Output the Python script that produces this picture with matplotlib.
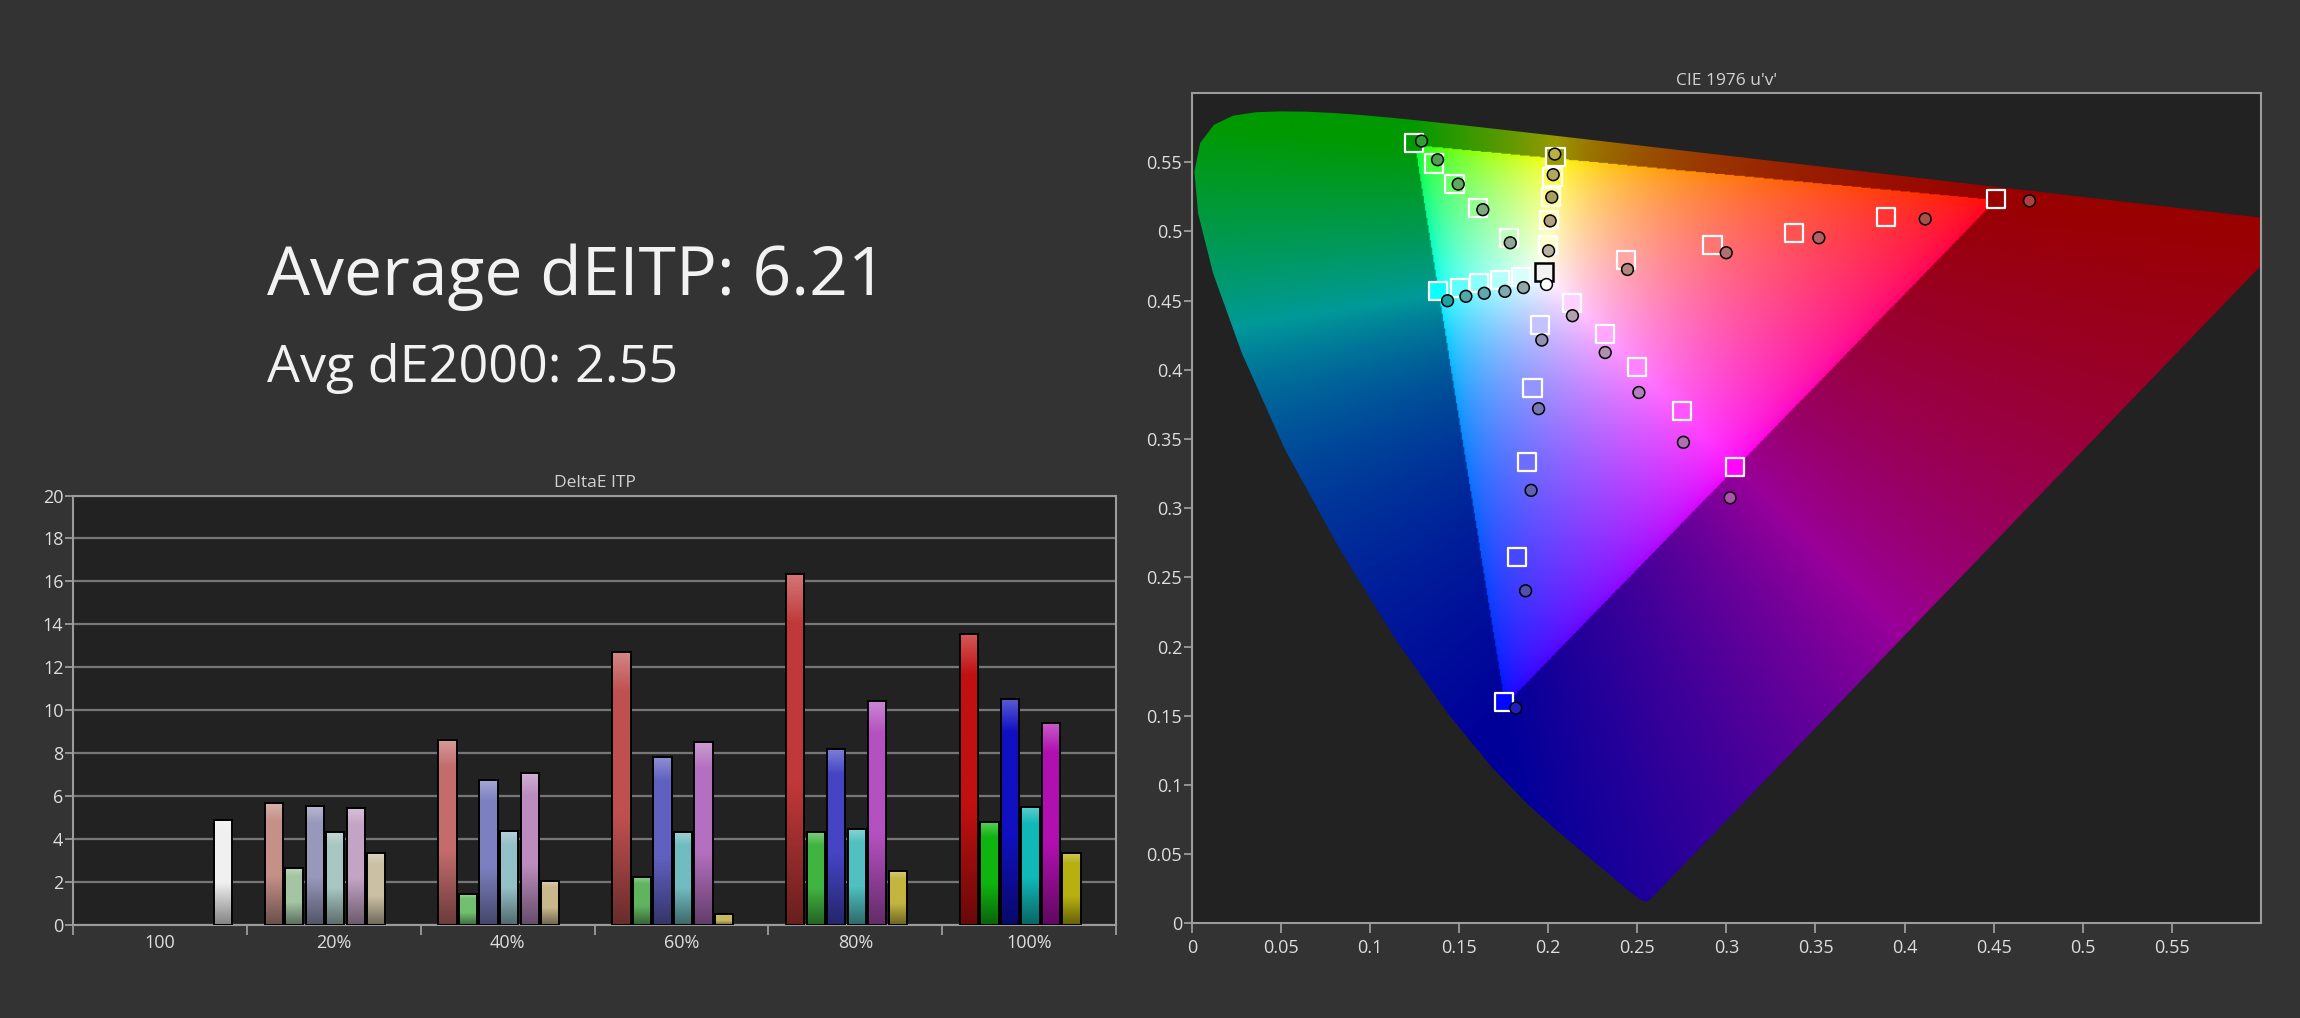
import numpy as np
import matplotlib
matplotlib.use("Agg")
from matplotlib import pyplot as plt
from matplotlib.colors import to_rgb
from matplotlib.path import Path
from matplotlib.patches import PathPatch
from matplotlib.ticker import FuncFormatter

plt.rcParams['font.family'] = ['Open Sans', 'DejaVu Sans']

FIG_BG = '#333333'
AX_BG = '#222222'
FRAME = '#9c9c9c'
GRID = '#777777'
TEXT = '#dedede'

# ---- DeltaE ITP bars ----
group_labels = ["100", "20%", "40%", "60%", "80%", "100%"]
white_de = 4.9
de_red = [5.67, 8.62, 12.70, 16.33, 13.57]
de_green = [2.65, 1.44, 2.22, 4.31, 4.79]
de_blue = [5.52, 6.73, 7.83, 8.18, 10.50]
de_cyan = [4.30, 4.36, 4.30, 4.44, 5.47]
de_magenta = [5.42, 7.06, 8.52, 10.43, 9.40]
de_yellow = [3.35, 2.04, 0.48, 2.49, 3.35]

bar_white = '#f0f0f0'
bar_red = ['#c49088', '#c46c6c', '#c05050', '#c03838', '#c01010']
bar_green = ['#a4c4a4', '#70c070', '#60b460', '#40b440', '#10b410']
bar_blue = ['#9898bc', '#7c80c0', '#6060c0', '#4444c4', '#1010c0']
bar_cyan = ['#a8c6c2', '#94c0c8', '#70bcc0', '#50c0c0', '#10b8b8']
bar_magenta = ['#c4a4c4', '#bc8cc0', '#b470c0', '#b450c0', '#b010b0']
bar_yellow = ['#ccc0a4', '#c8b88c', '#c8b860', '#c4b440', '#b8b010']

# ---- CIE 1976 u'v' points (target squares / measured circles), 20% -> 100% ----
white_target = (0.1977, 0.4707)
white_meas = (0.1985, 0.4621)
target_red = [(0.2436, 0.4792), (0.2922, 0.4905), (0.3382, 0.4991), (0.3897, 0.5103), (0.4512, 0.5234)]
meas_red = [(0.2445, 0.4725), (0.2999, 0.4846), (0.3519, 0.4954), (0.4116, 0.5090), (0.4701, 0.5221)]
target_green = [(0.1779, 0.4955), (0.1607, 0.5171), (0.1474, 0.5342), (0.1358, 0.5491), (0.1246, 0.5640)]
meas_green = [(0.1787, 0.4918), (0.1633, 0.5157), (0.1495, 0.5342), (0.1379, 0.5518), (0.1289, 0.5653)]
target_blue = [(0.1955, 0.4323), (0.1912, 0.3868), (0.1882, 0.3332), (0.1826, 0.2646), (0.1753, 0.1596)]
meas_blue = [(0.1964, 0.4215), (0.1946, 0.3719), (0.1904, 0.3129), (0.1873, 0.2403), (0.1818, 0.1555)]
target_cyan = [(0.1848, 0.4670), (0.1732, 0.4652), (0.1611, 0.4625), (0.1504, 0.4594), (0.1384, 0.4567)]
meas_cyan = [(0.1861, 0.4594), (0.1757, 0.4567), (0.1641, 0.4553), (0.1538, 0.4531), (0.1435, 0.4499)]
target_magenta = [(0.2136, 0.4481), (0.2320, 0.4260), (0.2501, 0.4017), (0.2750, 0.3701), (0.3046, 0.3300)]
meas_magenta = [(0.2136, 0.4391), (0.2320, 0.4125), (0.2509, 0.3836), (0.2759, 0.3476), (0.3021, 0.3075)]
target_yellow = [(0.1998, 0.4905), (0.2007, 0.5085), (0.2015, 0.5248), (0.2024, 0.5392), (0.2041, 0.5536)]
meas_yellow = [(0.2002, 0.4860), (0.2011, 0.5076), (0.2020, 0.5248), (0.2028, 0.5410), (0.2037, 0.5559)]

dot_red = ['#b08880', '#b07070', '#b06060', '#a85050', '#b04040']
dot_green = ['#90a898', '#80a880', '#60a860', '#50a050', '#30a030']
dot_blue = ['#9090b0', '#7878b0', '#6060b0', '#5050a8', '#2020c0']
dot_cyan = ['#90a8a8', '#80a8b0', '#60a8b0', '#50a8a8', '#20a0a0']
dot_magenta = ['#b0a0b0', '#b090b0', '#b080b8', '#b070b0', '#b050b0']
dot_yellow = ['#b8b0a0', '#b0a080', '#a8a060', '#b0a860', '#b8b040']

# CIE 1931 2 deg spectral locus, 380-700 nm (x, y)
locus_x = [0.1741, 0.1740, 0.1738, 0.1736, 0.1733, 0.1730, 0.1726, 0.1721, 0.1714, 0.1703,
           0.1689, 0.1669, 0.1644, 0.1611, 0.1566, 0.1510, 0.1440, 0.1355, 0.1241, 0.1096,
           0.0913, 0.0687, 0.0454, 0.0235, 0.0082, 0.0039, 0.0139, 0.0389, 0.0743, 0.1142,
           0.1547, 0.1929, 0.2296, 0.2658, 0.3016, 0.3373, 0.3731, 0.4087, 0.4441, 0.4788,
           0.5125, 0.5448, 0.5752, 0.6029, 0.6270, 0.6482, 0.6658, 0.6801, 0.6915, 0.7006,
           0.7079, 0.7140, 0.7190, 0.7230, 0.7260, 0.7283, 0.7300, 0.7311, 0.7320, 0.7334,
           0.7344, 0.7347]
locus_y = [0.0050, 0.0050, 0.0049, 0.0049, 0.0048, 0.0048, 0.0048, 0.0048, 0.0051, 0.0058,
           0.0069, 0.0086, 0.0109, 0.0138, 0.0177, 0.0227, 0.0297, 0.0399, 0.0578, 0.0868,
           0.1327, 0.2007, 0.2950, 0.4127, 0.5384, 0.6548, 0.7502, 0.8120, 0.8338, 0.8262,
           0.8059, 0.7816, 0.7543, 0.7243, 0.6923, 0.6589, 0.6245, 0.5896, 0.5547, 0.5202,
           0.4866, 0.4544, 0.4242, 0.3965, 0.3725, 0.3514, 0.3340, 0.3197, 0.3083, 0.2993,
           0.2920, 0.2859, 0.2809, 0.2770, 0.2740, 0.2717, 0.2700, 0.2689, 0.2680, 0.2666,
           0.2656, 0.2653]

XYZ_TO_RGB = np.array([[3.2406, -1.5372, -0.4986],
                       [-0.9689, 1.8758, 0.0415],
                       [0.0557, -0.2040, 1.0570]])


def uv_to_rgb(U, V):
    ''' Display colour for u'v' chromaticities, dimmed outside the Rec.709 gamut '''
    U, V = np.asarray(U, float), np.asarray(V, float)
    dd = 6 * U - 16 * V + 12
    x, y = 9 * U / dd, 4 * V / dd
    xyz = np.stack([x / y, np.ones_like(x), (1 - x - y) / y], axis=-1)
    rgb = xyz @ XYZ_TO_RGB.T
    inside = (rgb >= -1e-3).all(axis=-1)
    rgb = np.clip(rgb, 0, None)
    rgb = rgb / np.maximum(rgb.max(axis=-1, keepdims=True), 1e-9)
    out = np.where(inside[..., None], rgb ** (1 / 1.8), 0.6 * rgb ** 0.9)
    return np.clip(out, 0, 1)


def bar_gradient(color, n=80):
    ''' Vertical shading for one bar, bottom -> top '''
    rgb = np.array(to_rgb(color))
    t = np.linspace(0, 1, n)
    shade = np.clip(0.55 + 0.45 * t / 0.4, None, 1.0)
    hi = 0.3 * np.clip((t - 0.86) / 0.14, 0, 1)
    col = rgb[None, :] * shade[:, None]
    col = col + (1 - col) * hi[:, None]
    return col[:, None, :]


def style_axes(ax, title):
    ax.set_facecolor(AX_BG)
    for s in ax.spines.values():
        s.set_color(FRAME)
        s.set_linewidth(1.5)
    ax.set_title(title, color='#d2d2d2', fontsize=12.5, pad=6)
    ax.tick_params(which='both', colors=FRAME, labelcolor=TEXT, labelsize=13, width=1.3)


def draw_bars(ax):
    ''' DeltaE ITP grouped bars '''
    style_axes(ax, "DeltaE ITP")
    slot0, pitch, bw = 0.102, 0.118, 0.105
    series = [(de_red, bar_red), (de_green, bar_green), (de_blue, bar_blue),
              (de_cyan, bar_cyan), (de_magenta, bar_magenta), (de_yellow, bar_yellow)]
    xs, hs, cs = [slot0 + 6 * pitch], [white_de], [bar_white]
    for k, (vals, cols) in enumerate(series):
        for g, (v, c) in enumerate(zip(vals, cols)):
            xs.append(g + 1 + slot0 + k * pitch)
            hs.append(v)
            cs.append(c)
    bars = ax.bar(xs, hs, width=bw, align='edge', facecolor='none',
                  edgecolor='black', linewidth=1.4, zorder=3.2)
    for b, c in zip(bars, cs):
        im = ax.imshow(bar_gradient(c), origin='lower', aspect='auto', interpolation='bilinear',
                       extent=(b.get_x(), b.get_x() + b.get_width(), 0, b.get_height()), zorder=3)
        im.set_clip_path(b)
    ax.set_xlim(0, len(group_labels))
    ax.set_ylim(0, 20)
    ax.set_yticks(np.arange(0, 21, 2))
    ax.yaxis.grid(True, color=GRID, linewidth=1.6)
    ax.set_axisbelow(True)
    ax.tick_params(axis='y', length=6, pad=1)
    ax.set_xticks(np.arange(len(group_labels) + 1))
    ax.set_xticklabels([])
    ax.set_xticks(np.arange(len(group_labels)) + 0.5, minor=True)
    ax.set_xticklabels(group_labels, minor=True)
    ax.tick_params(axis='x', which='major', length=7)
    ax.tick_params(axis='x', which='minor', length=0, pad=7)


def draw_cie(ax):
    ''' CIE 1976 u'v' diagram with targets and measurements '''
    style_axes(ax, "CIE 1976 u'v'")
    lx, ly = np.array(locus_x), np.array(locus_y)
    d = -2 * lx + 12 * ly + 3
    lu, lv = 4 * lx / d, 9 * ly / d

    n = 900
    U, V = np.meshgrid(np.linspace(0, 0.6, n), np.linspace(0.002, 0.6, n))
    im = ax.imshow(uv_to_rgb(U, V), extent=(0, 0.6, 0.002, 0.6), origin='lower', aspect='auto',
                   interpolation='bilinear', zorder=1)
    horseshoe = PathPatch(Path(np.column_stack([lu, lv])), transform=ax.transData,
                          facecolor='none', edgecolor='none')
    ax.add_patch(horseshoe)
    im.set_clip_path(horseshoe)

    groups = [(target_green, meas_green, dot_green), (target_yellow, meas_yellow, dot_yellow),
              (target_cyan, meas_cyan, dot_cyan), (target_red, meas_red, dot_red),
              (target_magenta, meas_magenta, dot_magenta), (target_blue, meas_blue, dot_blue)]
    for tgt, _, _ in groups:
        tu, tv = np.array(tgt).T
        ax.scatter(tu, tv, s=13 ** 2, marker='s', c=uv_to_rgb(tu, tv),
                   edgecolors='white', linewidths=1.6, zorder=4)
    ax.plot(*white_target, 's', ms=13, mfc='#f2f2f2', mec='black', mew=1.8, zorder=4)
    for _, meas, cols in groups:
        mu, mv = zip(*meas)
        ax.scatter(mu, mv, s=72, c=cols, edgecolors='black', linewidths=1.1, zorder=5)
    ax.scatter(*white_meas, s=72, c='white', edgecolors='black', linewidths=1.1, zorder=5)

    ax.set_xlim(0, 0.6)
    ax.set_ylim(0, 0.6)
    ticks = np.round(np.arange(0, 0.56, 0.05), 2)
    ax.set_xticks(ticks)
    ax.set_yticks(ticks)
    fmt = FuncFormatter(lambda val, pos: f'{val:g}')
    ax.xaxis.set_major_formatter(fmt)
    ax.yaxis.set_major_formatter(fmt)
    ax.tick_params(axis='x', length=7, pad=4)
    ax.tick_params(axis='y', length=6, pad=1)


fig = plt.figure(figsize=(23, 10.18), dpi=100, facecolor=FIG_BG)
ax_bar = fig.add_axes([0.0318, 0.0916, 0.4534, 0.4216])
ax_cie = fig.add_axes([0.5182, 0.0930, 0.4648, 0.8156])
draw_bars(ax_bar)
draw_cie(ax_cie)

fig.text(0.116, 0.7102, "Average dEITP: 6.21", color='#f2f2f2', fontsize=49, va='baseline')
fig.text(0.116, 0.6250, "Avg dE2000: 2.55", color='#f2f2f2', fontsize=37.5, va='baseline')

fig.savefig("out.png", dpi=100, facecolor=FIG_BG)
